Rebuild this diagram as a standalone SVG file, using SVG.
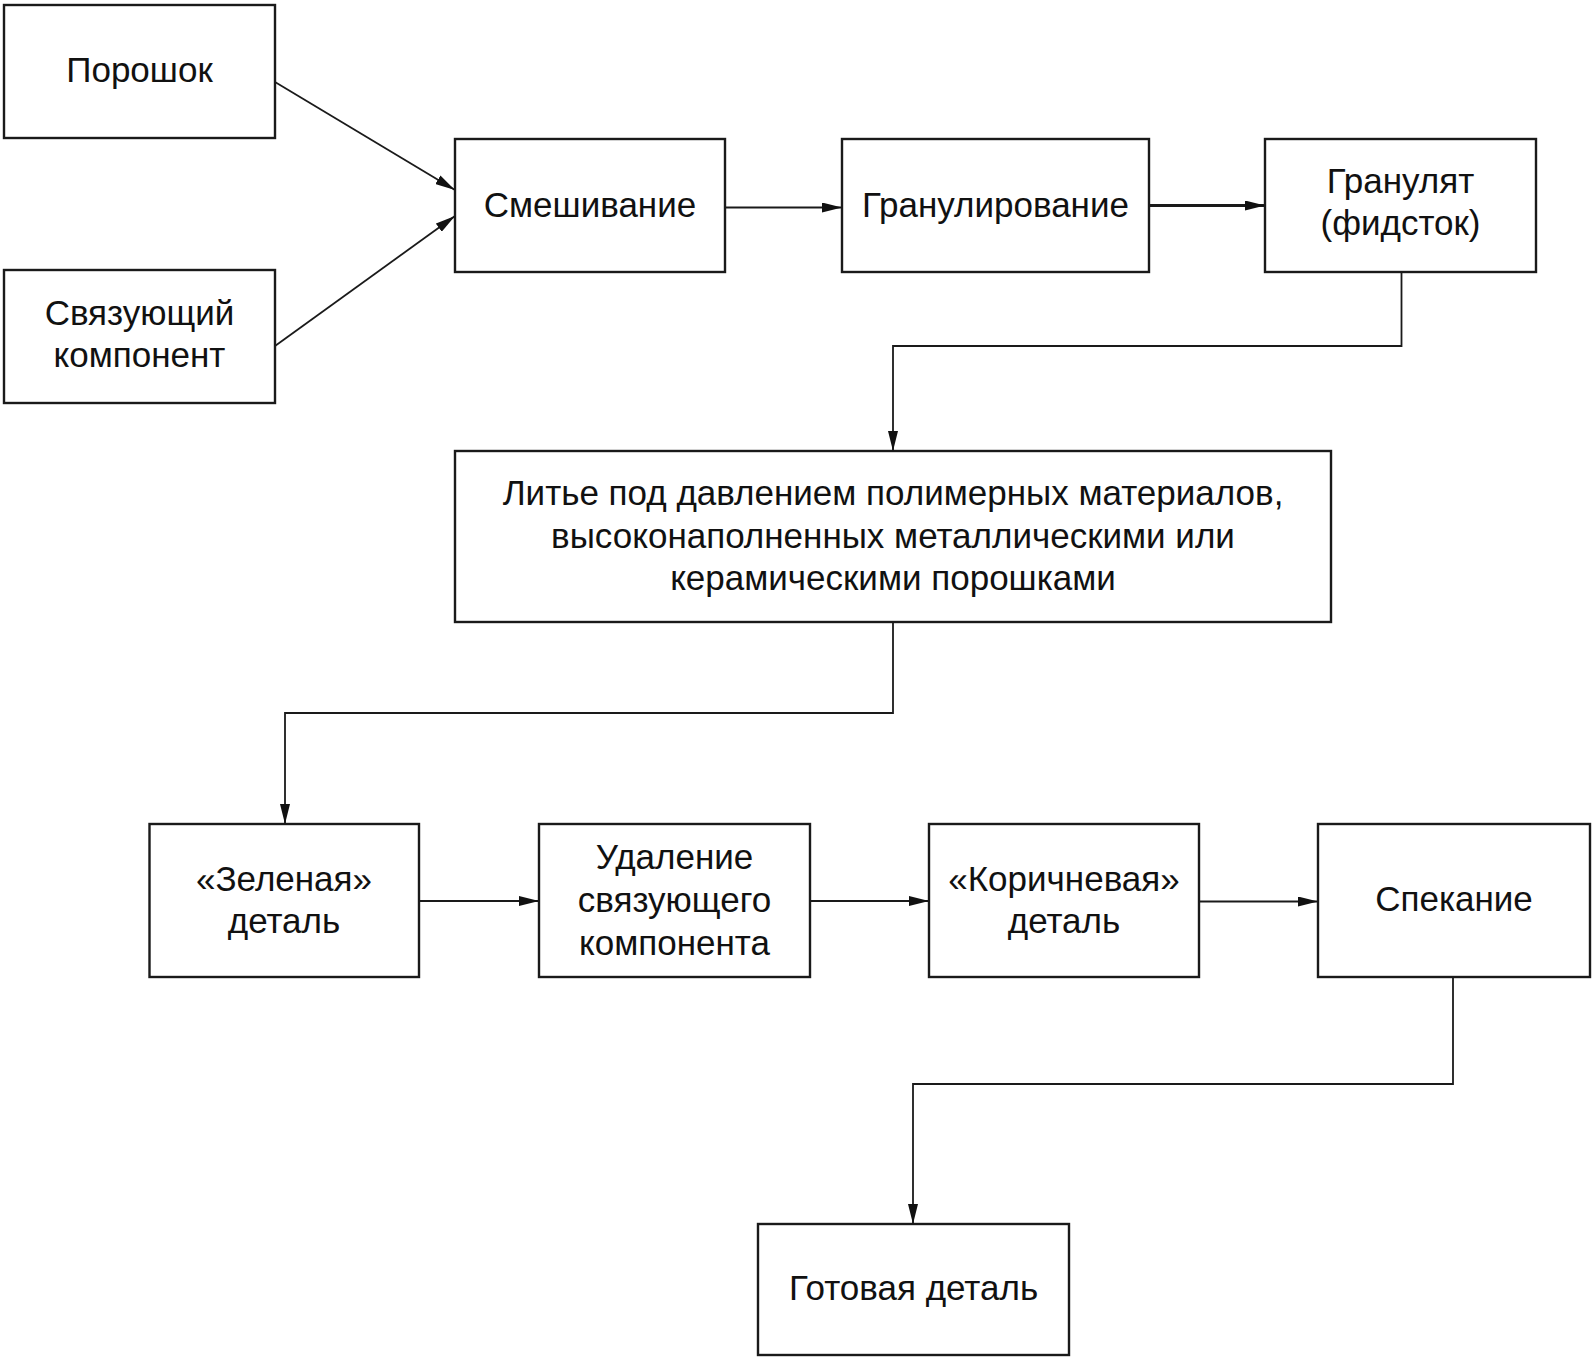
<svg xmlns="http://www.w3.org/2000/svg" width="1594" height="1362" viewBox="0 0 1594 1362">
<defs>
<marker id="arr" viewBox="0 0 20 10" refX="20" refY="5" markerWidth="20" markerHeight="10" markerUnits="userSpaceOnUse" orient="auto">
<path d="M0,0 L20,5 L0,10 Z" fill="#111"/>
</marker>
</defs>
<style>
.box{fill:#fff;stroke:#1a1a1a;stroke-width:2.4}
.t{font-family:"Liberation Sans",Arial,sans-serif;font-size:35px;fill:#111;text-anchor:middle}
.c{fill:none;stroke:#1a1a1a;stroke-width:1.8}
</style>
<rect width="1594" height="1362" fill="#fff"/>
<g id="n-poroshok"><rect class="box" x="4" y="5" width="271" height="133"/><text class="t" x="139.5" y="82">Порошок</text></g>
<g id="n-svyaz"><rect class="box" x="4" y="270" width="271" height="133"/><text class="t" x="139.5" y="325">Связующий</text><text class="t" x="139.5" y="367">компонент</text></g>
<g id="n-smesh"><rect class="box" x="455" y="139" width="270" height="133"/><text class="t" x="590" y="217">Смешивание</text></g>
<g id="n-granul"><rect class="box" x="842" y="139" width="307" height="133"/><text class="t" x="995.5" y="217">Гранулирование</text></g>
<g id="n-granulyat"><rect class="box" x="1265" y="139" width="271" height="133"/><text class="t" x="1400.5" y="193">Гранулят</text><text class="t" x="1400.5" y="235">(фидсток)</text></g>
<g id="n-lite"><rect class="box" x="455" y="451" width="876" height="171"/><text class="t" x="893" y="505">Литье под давлением полимерных материалов,</text><text class="t" x="893" y="547.5">высоконаполненных металлическими или</text><text class="t" x="893" y="590">керамическими порошками</text></g>
<g id="n-zel"><rect class="box" x="149.5" y="824" width="269.5" height="153"/><text class="t" x="284" y="890.5">«Зеленая»</text><text class="t" x="284" y="933">деталь</text></g>
<g id="n-udal"><rect class="box" x="539" y="824" width="271" height="153"/><text class="t" x="674.5" y="869">Удаление</text><text class="t" x="674.5" y="912">связующего</text><text class="t" x="674.5" y="954.5">компонента</text></g>
<g id="n-korich"><rect class="box" x="929" y="824" width="270" height="153"/><text class="t" x="1064" y="890.5">«Коричневая»</text><text class="t" x="1064" y="933">деталь</text></g>
<g id="n-spek"><rect class="box" x="1318" y="824" width="272" height="153"/><text class="t" x="1454" y="911">Спекание</text></g>
<g id="n-gotov"><rect class="box" x="758" y="1224" width="311" height="131"/><text class="t" x="913.5" y="1300">Готовая деталь</text></g>
<g id="connectors">
<path class="c" d="M275,82 L455,190" marker-end="url(#arr)"/>
<path class="c" d="M275,346 L455,216" marker-end="url(#arr)"/>
<path class="c" d="M725,207.5 L842,207.5" marker-end="url(#arr)"/>
<path class="c" style="stroke-width:3" d="M1149,205.5 L1265,205.5" marker-end="url(#arr)"/>
<path class="c" d="M1401.5,272 V346 H893 V451" marker-end="url(#arr)"/>
<path class="c" d="M893,622 V713 H285 V824" marker-end="url(#arr)"/>
<path class="c" d="M419,901 L539,901" marker-end="url(#arr)"/>
<path class="c" d="M810,901 L929,901" marker-end="url(#arr)"/>
<path class="c" d="M1199,901.5 L1318,901.5" marker-end="url(#arr)"/>
<path class="c" d="M1453,977 V1084 H913 V1224" marker-end="url(#arr)"/>
</g>
</svg>
